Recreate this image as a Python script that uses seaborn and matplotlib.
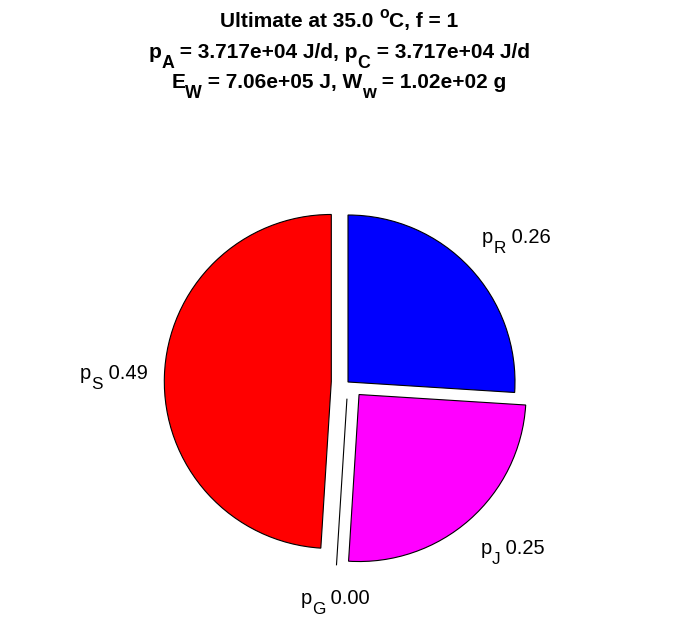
import numpy as np
import seaborn as sns
import matplotlib
matplotlib.use('Agg')
import matplotlib.pyplot as plt
from matplotlib.font_manager import FontProperties

# fractions of the energy flux, in drawing order (clockwise from top)
names = ['R', 'J', 'G', 'S']
fracs = [0.26, 0.25, 0.00, 0.49]
slice_colors = ['#0000FF', '#FF00FF', '#FFFFFF', '#FF0000']
explode = [0.0, 0.1, 0.1, 0.1]

# title values
temp_c = 35.0
f_food = 1
p_A = 3.717e+04
p_C = 3.717e+04
E_W = 7.06e+05
W_w = 1.02e+02

sns.set_theme(style='white')
plt.rcParams['font.family'] = ['Liberation Sans', 'DejaVu Sans']
plt.rcParams['text.color'] = 'black'

W, H = 696, 618
cx, cy, rad = 348, 382, 167  # pie centre and radius in pixels
PX = 100 / 72                # pixels per point

fig = plt.figure(figsize=(W / 100, H / 100), dpi=100)
ax = fig.add_axes([0, 0, 1, 1])


def rich_text(x, y, parts, size, ha='left', weight='normal'):
    """Text with MATLAB-like (large) sub/superscripts; x, y = baseline in px from top-left."""
    renderer = fig.canvas.get_renderer()
    em = size * PX
    scale = {'n': 1.0, 'sub': 0.85, 'sup': 0.75}
    shift = {'n': 0.0, 'sub': 0.5, 'sup': -0.42}  # fraction of em, + is down
    widths = []
    for s, kind in parts:
        prop = FontProperties(family='Liberation Sans', size=size * scale[kind], weight=weight)
        w1 = renderer.get_text_width_height_descent('x' + s + 'x', prop, ismath=False)[0]
        w0 = renderer.get_text_width_height_descent('xx', prop, ismath=False)[0]
        widths.append(w1 - w0)
    total = sum(widths)
    x0 = x - {'left': 0, 'center': total / 2, 'right': total}[ha]
    for (s, kind), w in zip(parts, widths):
        fig.text(x0 / W, 1 - (y + shift[kind] * em) / H, s, ha='left', va='baseline',
                 fontsize=size * scale[kind], fontweight=weight, family='Liberation Sans')
        x0 += w


wedges, _ = ax.pie(fracs, colors=slice_colors, explode=explode, startangle=90,
                   counterclock=False, normalize=True,
                   wedgeprops=dict(edgecolor='black', linewidth=0.8))

ax.set_xlim(-cx / rad, (W - cx) / rad)
ax.set_ylim(-(H - cy) / rad, cy / rad)
ax.set_aspect('auto')
ax.axis('off')

# slice labels, placed outside each (exploded) wedge
label_size = 14.5
va_shift = {'bottom': -13, 'top': 22, 'center': 3}  # anchor -> baseline, px
for w, n, v in zip(wedges, names, fracs):
    mid = np.deg2rad((w.theta1 + w.theta2) / 2)
    lx = w.center[0] + 1.1 * w.r * np.cos(mid)
    ly = w.center[1] + 1.1 * w.r * np.sin(mid)
    px, py = ax.transData.transform((lx, ly))
    py = H - py
    ha = 'left' if lx > 0.15 else ('right' if lx < -0.15 else 'center')
    va = 'bottom' if ly > 0.15 else ('top' if ly < -0.15 else 'center')
    rich_text(px, py + va_shift[va], [('p', 'n'), (n, 'sub'), (' %.2f' % v, 'n')],
              label_size, ha=ha)

title_lines = [
    [('Ultimate at %.1f ' % temp_c, 'n'), ('o', 'sup'), ('C, f = %d' % f_food, 'n')],
    [('p', 'n'), ('A', 'sub'), (' = %.3e J/d, p' % p_A, 'n'), ('C', 'sub'),
     (' = %.3e J/d' % p_C, 'n')],
    [('E', 'n'), ('W', 'sub'), (' = %.2e J, W' % E_W, 'n'), ('w', 'sub'),
     (' = %.2e g' % W_w, 'n')],
]
for i, parts in enumerate(title_lines):
    rich_text(339, 27 + 30.5 * i, parts, 15, ha='center', weight='bold')

fig.savefig('out.png', dpi=100, facecolor='white')
